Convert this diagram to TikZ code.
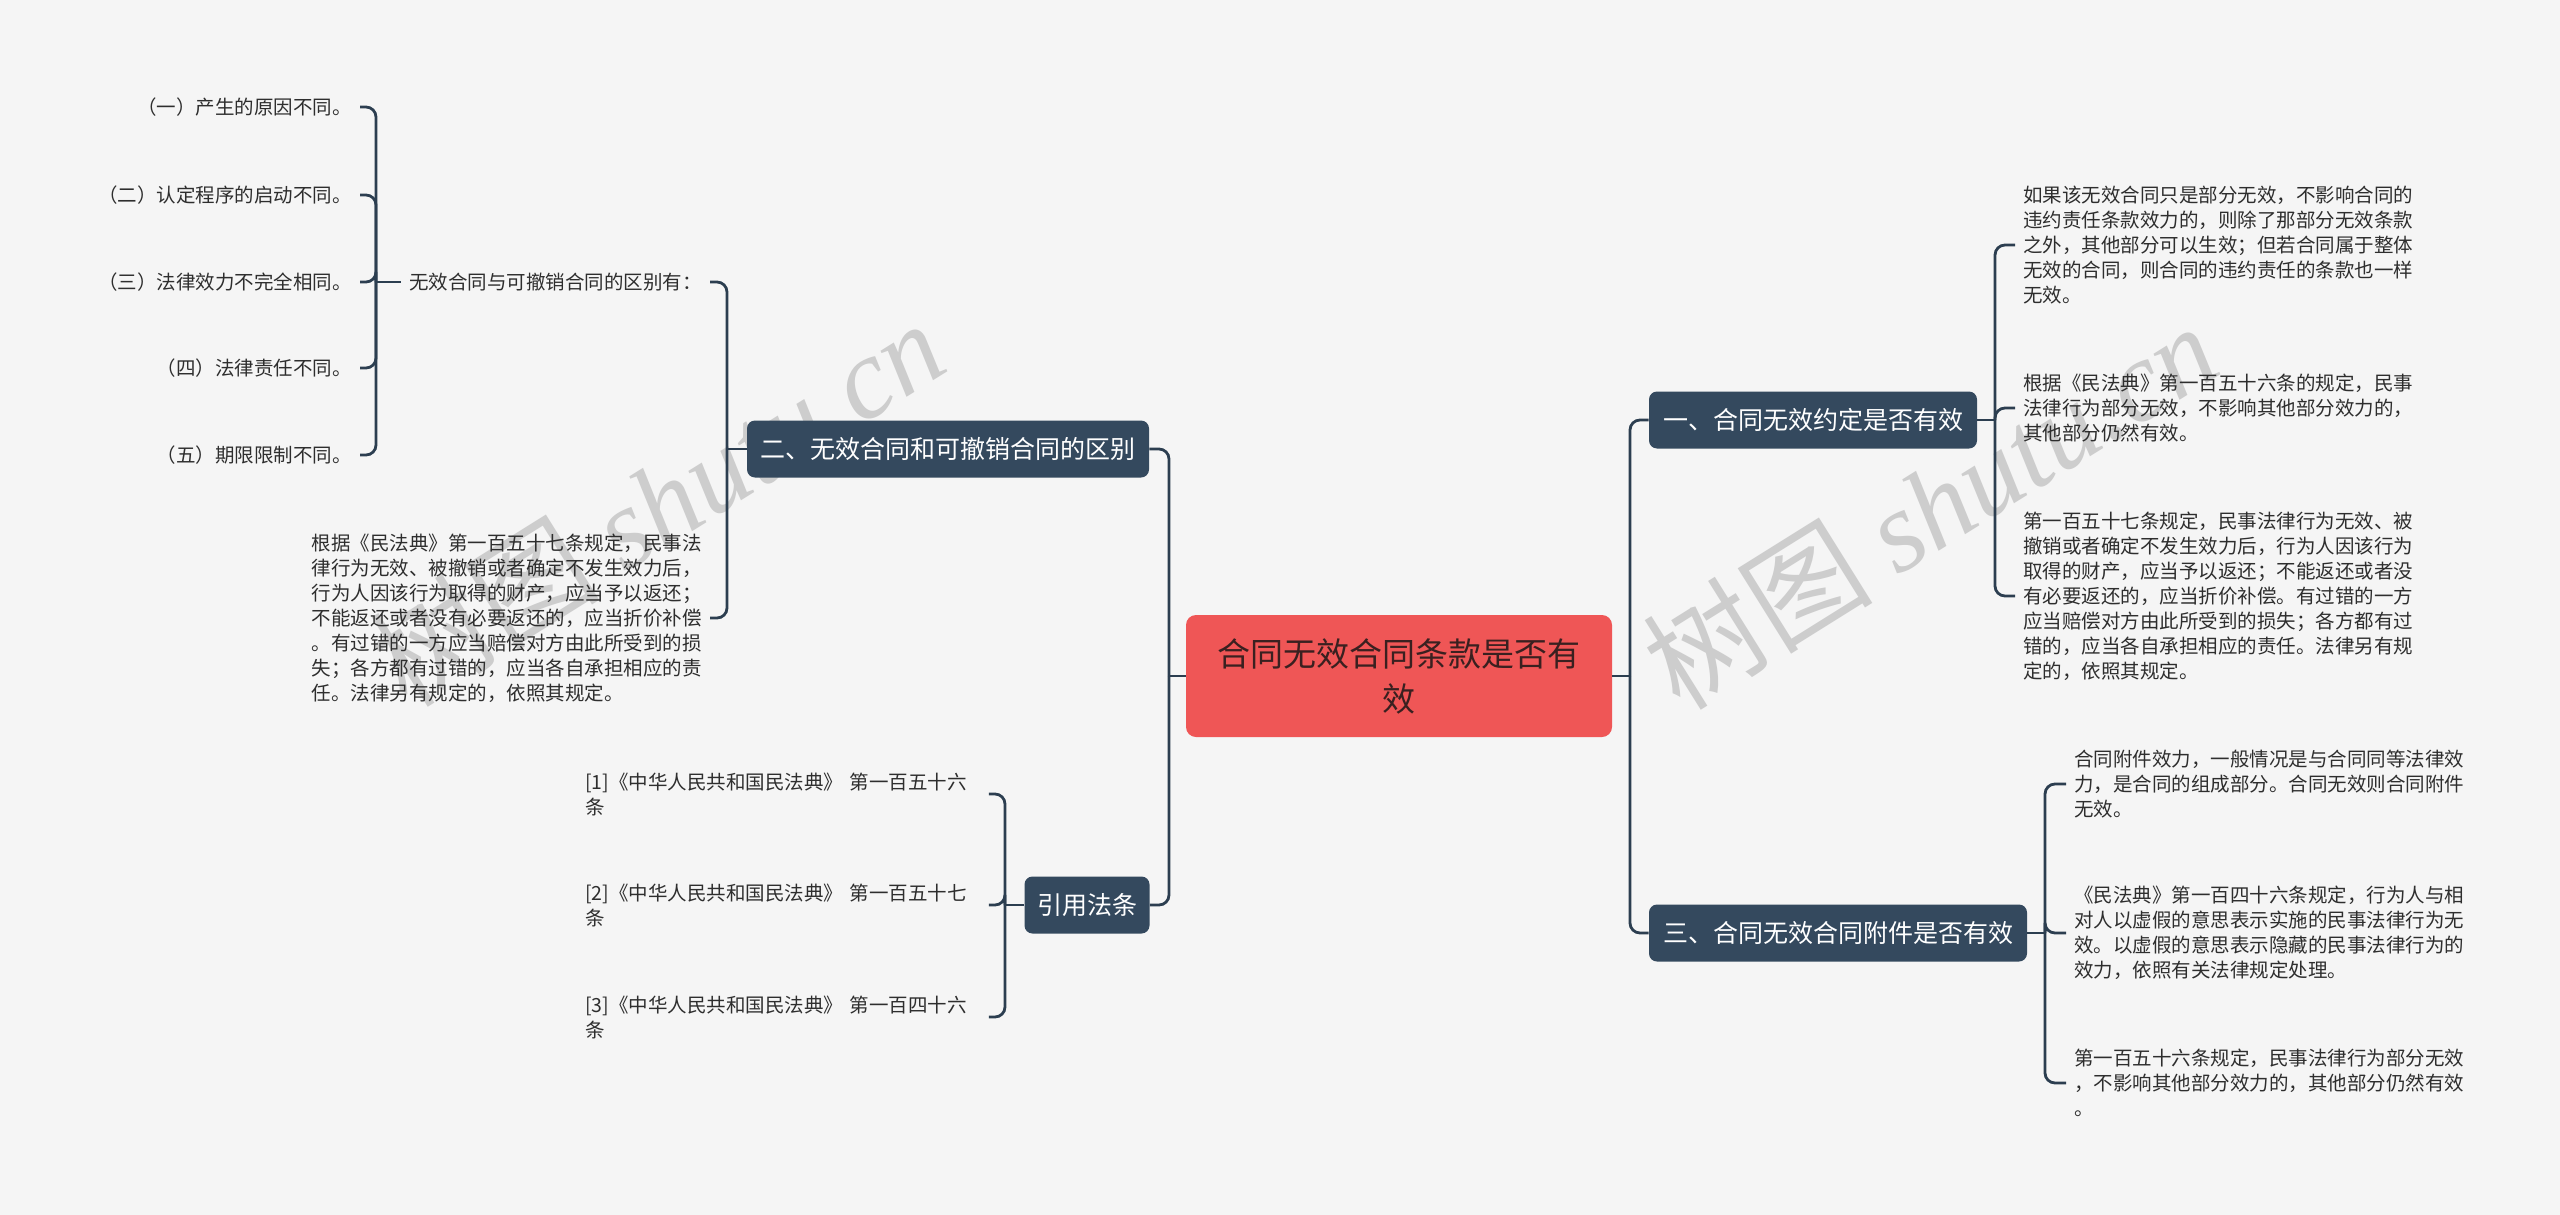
\documentclass[tikz,border=0pt]{standalone}
\usepackage{fontspec}
\setmainfont{Noto Sans CJK SC}
\newfontfamily\wmserif{Liberation Serif}
\usetikzlibrary{calc}
\definecolor{bg}{HTML}{F5F5F5}
\definecolor{darkbox}{HTML}{34495E}
\definecolor{lnc}{HTML}{2C3E50}
\definecolor{redbox}{HTML}{EF5656}
\definecolor{ctext}{HTML}{3A2020}
\definecolor{txt}{HTML}{2E2E2E}
\definecolor{wmc}{HTML}{CDCDCD}
\begin{document}
\begin{tikzpicture}[x=0.5pt,y=-0.5pt,
  conn/.style={draw=lnc, line width=1.4pt, rounded corners=5pt},
  branch/.style={fill=darkbox, rounded corners=4pt, text=white, font=\fontsize{12.5}{15}\selectfont, minimum height=28.5pt, inner sep=0pt},
  ctr/.style={fill=redbox, rounded corners=5pt, text=ctext, font=\fontsize{16.5}{22.5}\selectfont, align=center, minimum width=213pt, minimum height=61pt, inner sep=0pt},
  para/.style={text=txt, font=\fontsize{9.75}{12.5}\selectfont, align=left, inner xsep=4pt, inner ysep=2pt},
  itm/.style={text=txt, font=\fontsize{9.75}{12.5}\selectfont, inner xsep=4pt, inner ysep=2pt, anchor=east},
  wm/.style={text=wmc, font=\fontsize{57.5}{60}\selectfont, rotate=32, inner sep=0pt}
]
\fill[bg] (0,0) rectangle (2560,1215);
\useasboundingbox (0,0) rectangle (2560,1215);

% watermarks
\node[wm] (wm1) at (657,502) {树图 {\wmserif\itshape shutu.cn}};
\node[wm] (wm2) at (1930,505) {树图 {\wmserif\itshape shutu.cn}};

% central and branches
\node[ctr] (c) at (1399,676) {合同无效合同条款是否有\\效};
\node[branch, minimum width=164pt] (b1) at (1813,420) {一、合同无效约定是否有效};
\node[branch, minimum width=201pt] (b2) at (948,449) {二、无效合同和可撤销合同的区别};
\node[branch, minimum width=189pt] (b3) at (1838,933) {三、合同无效合同附件是否有效};
\node[branch, minimum width=62.5pt] (b4) at (1087,905) {引用法条};

\coordinate (jl) at (1169,676);
\coordinate (jr) at (1630,676);
\draw[conn] (c.west) -- (jl);
\draw[conn] (jl) |- (b2.east);
\draw[conn] (jl) |- (b4.east);
\draw[conn] (c.east) -- (jr);
\draw[conn] (jr) |- (b1.west);
\draw[conn] (jr) |- (b3.west);

% branch 1 children
\node[para, anchor=west] (p1a) at (2015,245) {如果该无效合同只是部分无效，不影响合同的\\违约责任条款效力的，则除了那部分无效条款\\之外，其他部分可以生效；但若合同属于整体\\无效的合同，则合同的违约责任的条款也一样\\无效。};
\node[para, anchor=west] (p1b) at (2015,408) {根据《民法典》第一百五十六条的规定，民事\\法律行为部分无效，不影响其他部分效力的，\\其他部分仍然有效。};
\node[para, anchor=west] (p1c) at (2015,596) {第一百五十七条规定，民事法律行为无效、被\\撤销或者确定不发生效力后，行为人因该行为\\取得的财产，应当予以返还；不能返还或者没\\有必要返还的，应当折价补偿。有过错的一方\\应当赔偿对方由此所受到的损失；各方都有过\\错的，应当各自承担相应的责任。法律另有规\\定的，依照其规定。};
\coordinate (j1) at (1995,420);
\draw[conn] (b1.east) -- (j1);
\draw[conn] (j1) |- (p1a.west);
\draw[conn] (j1) |- (p1b.west);
\draw[conn] (j1) |- (p1c.west);

% branch 3 children
\node[para, anchor=west] (p3a) at (2066,784) {合同附件效力，一般情况是与合同同等法律效\\力，是合同的组成部分。合同无效则合同附件\\无效。};
\node[para, anchor=west] (p3b) at (2066,933) {《民法典》第一百四十六条规定，行为人与相\\对人以虚假的意思表示实施的民事法律行为无\\效。以虚假的意思表示隐藏的民事法律行为的\\效力，依照有关法律规定处理。};
\node[para, anchor=west] (p3c) at (2066,1083) {第一百五十六条规定，民事法律行为部分无效\\，不影响其他部分效力的，其他部分仍然有效\\。};
\coordinate (j3) at (2045,933);
\draw[conn] (b3.east) -- (j3);
\draw[conn] (j3) |- (p3a.west);
\draw[conn] (j3) |- (p3b.west);
\draw[conn] (j3) |- (p3c.west);

% branch 2 children
\node[itm] (d0) at (710,282) {无效合同与可撤销合同的区别有：};
\node[para, anchor=east] (p0) at (710,618) {根据《民法典》第一百五十七条规定，民事法\\律行为无效、被撤销或者确定不发生效力后，\\行为人因该行为取得的财产，应当予以返还；\\不能返还或者没有必要返还的，应当折价补偿\\。有过错的一方应当赔偿对方由此所受到的损\\失；各方都有过错的，应当各自承担相应的责\\任。法律另有规定的，依照其规定。};
\coordinate (j2) at (727,449);
\draw[conn] (b2.west) -- (j2);
\draw[conn] (j2) |- (d0.east);
\draw[conn] (j2) |- (p0.east);

% items of d0
\node[itm] (i1) at (360,107) {（一）产生的原因不同。};
\node[itm] (i2) at (360,195) {（二）认定程序的启动不同。};
\node[itm] (i3) at (360,282) {（三）法律效力不完全相同。};
\node[itm] (i4) at (360,368) {（四）法律责任不同。};
\node[itm] (i5) at (360,455) {（五）期限限制不同。};
\coordinate (jd) at (376,282);
\draw[conn] (d0.west) -- (jd);
\foreach \n in {i1,i2,i3,i4,i5} {\draw[conn] (jd) |- (\n.east);}

% references
\node[para, anchor=west, text width=197.5pt] (r1) at (577,794) {[1]《中华人民共和国民法典》 第一百五十六\\条};
\node[para, anchor=west, text width=197.5pt] (r2) at (577,905) {[2]《中华人民共和国民法典》 第一百五十七\\条};
\node[para, anchor=west, text width=197.5pt] (r3) at (577,1017) {[3]《中华人民共和国民法典》 第一百四十六\\条};
\coordinate (j4) at (1005,905);
\draw[conn] (b4.west) -- (j4);
\draw[conn] (j4) |- (r1.east);
\draw[conn] (j4) |- (r2.east);
\draw[conn] (j4) |- (r3.east);
\end{tikzpicture}
\end{document}
